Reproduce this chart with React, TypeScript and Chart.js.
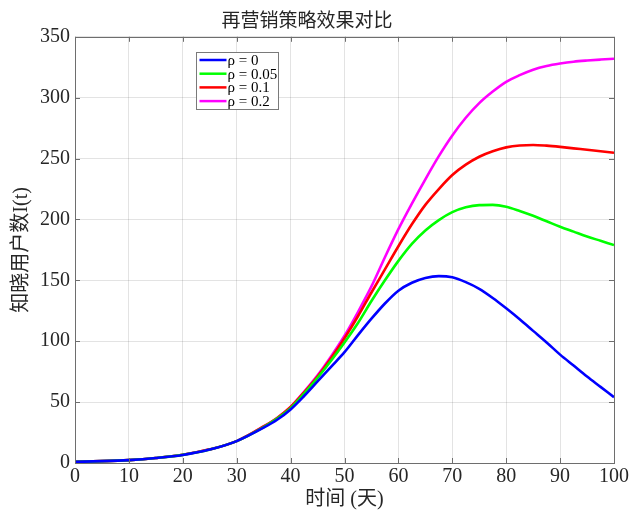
import React, { useEffect, useRef } from 'react';
import { Chart, registerables } from 'chart.js';

Chart.register(...registerables);

// ---- data ----
const days = [0, 5, 10, 15, 20, 25, 30, 35, 37.5, 40, 42.5, 45, 47.5, 50, 52.5, 55, 57.5, 60, 62.5, 65, 67.5, 70, 72.5, 75, 77.5, 80, 82.5, 85, 87.5, 90, 92.5, 95, 97.5, 100];
const rho0 = [1, 1.5, 2.4, 4.1, 6.6, 11, 18, 29, 35.5, 44, 55, 67, 79, 91, 105, 118.5, 131, 141.5, 148, 152, 153.5, 152.5, 148.5, 143, 135.5, 127, 118, 108.5, 99, 89, 80, 71, 62.5, 54];
const rho005 = [1, 1.5, 2.4, 4.1, 6.7, 11.1, 18, 29.5, 36.5, 45, 57, 70, 84, 99, 115, 133, 150, 166, 180, 191, 199.5, 206, 210, 211.8, 212, 210.5, 207, 203, 198.5, 194, 190, 186, 182.5, 179];
const rho01 = [1, 1.5, 2.4, 4.1, 6.7, 11.2, 18, 30, 37, 46, 58, 71, 86, 102.5, 120.5, 140, 159, 178, 196, 212, 225, 236.5, 245, 251.5, 256, 259.2, 260.8, 261.2, 260.6, 259.6, 258.4, 257.2, 256, 254.8];
const rho02 = [1, 1.5, 2.4, 4.1, 6.7, 11.2, 18, 30, 37, 46, 58.5, 72, 87.5, 104.5, 124, 145, 169, 192, 213, 233, 252, 269, 283.5, 295.5, 305, 313, 318.5, 323, 326, 328, 329.5, 330.5, 331.3, 332];
const seriesValues = [rho0, rho005, rho01, rho02];
const seriesLabels = ['ρ = 0', 'ρ = 0.05', 'ρ = 0.1', 'ρ = 0.2'];
const seriesColors = ['#0000ff', '#00ff00', '#ff0000', '#ff00ff'];

const chartTitle = '再营销策略效果对比';
const xTitle = '时间 (天)';
const yTitle = '知晓用户数I(t)';

const FONT = "'Liberation Serif', 'Times New Roman', 'Noto Sans CJK SC', serif";
const AXIS_GRAY = '#6e6e6e';

const framePlugin = {
  id: 'frame',
  afterDatasetsDraw(chart: any) {
    const { ctx, chartArea: ca, scales } = chart;
    ctx.save();
    // inner ticks
    ctx.strokeStyle = AXIS_GRAY;
    ctx.lineWidth = 1;
    const tl = 5;
    ctx.beginPath();
    scales.x.ticks.forEach((t: any) => {
      const px = Math.round(scales.x.getPixelForValue(t.value)) + 0.5;
      ctx.moveTo(px, ca.bottom);
      ctx.lineTo(px, ca.bottom - tl);
      ctx.moveTo(px, ca.top);
      ctx.lineTo(px, ca.top + tl);
    });
    scales.y.ticks.forEach((t: any) => {
      const py = Math.round(scales.y.getPixelForValue(t.value)) + 0.5;
      ctx.moveTo(ca.left, py);
      ctx.lineTo(ca.left + tl, py);
      ctx.moveTo(ca.right, py);
      ctx.lineTo(ca.right - tl, py);
    });
    ctx.stroke();
    // box
    ctx.strokeRect(Math.round(ca.left) + 0.5, Math.round(ca.top) + 0.5, Math.round(ca.right - ca.left), Math.round(ca.bottom - ca.top));

    // legend
    const bx = Math.round(ca.left + 121) + 0.5;
    const by = Math.round(ca.top + 15) + 0.5;
    const bw = 82;
    const bh = 57;
    ctx.fillStyle = '#ffffff';
    ctx.fillRect(bx, by, bw, bh);
    ctx.strokeStyle = '#7a7a7a';
    ctx.lineWidth = 1;
    ctx.strokeRect(bx, by, bw, bh);
    ctx.font = `15px ${FONT}`;
    ctx.textBaseline = 'middle';
    ctx.textAlign = 'left';
    seriesLabels.forEach((lab, i) => {
      const ry = by + 7.5 + i * 13.7;
      ctx.strokeStyle = seriesColors[i];
      ctx.lineWidth = 2.5;
      ctx.beginPath();
      ctx.moveTo(bx + 3, ry);
      ctx.lineTo(bx + 30, ry);
      ctx.stroke();
      ctx.fillStyle = '#000000';
      ctx.fillText(lab, bx + 31, ry + 1);
    });
    ctx.restore();
  },
};

export default function App() {
  const canvasRef = useRef<HTMLCanvasElement | null>(null);

  useEffect(() => {
    const canvas = canvasRef.current;
    if (!canvas) return;
    const datasets = seriesValues.map((vals, i) => ({
      label: seriesLabels[i],
      data: days.map((d, j) => ({ x: d, y: vals[j] })),
      borderColor: seriesColors[i],
      backgroundColor: seriesColors[i],
      borderWidth: 2.6,
      pointRadius: 0,
      cubicInterpolationMode: 'monotone',
      fill: false,
    }));
    const chart = new Chart(canvas, {
      type: 'line',
      data: { datasets },
      plugins: [framePlugin],
      options: {
        animation: false,
        responsive: false,
        devicePixelRatio: 1,
        layout: { padding: { left: 0, right: 18, top: 0, bottom: 0 } },
        plugins: {
          legend: { display: false },
          tooltip: { enabled: false },
          title: {
            display: true,
            text: chartTitle,
            color: '#262626',
            font: { family: "'Noto Sans CJK SC', sans-serif", size: 19, weight: 'normal' },
            padding: { top: 8, bottom: 6 },
          },
        },
        scales: {
          x: {
            type: 'linear',
            min: 0,
            max: 100,
            ticks: {
              stepSize: 10,
              color: '#262626',
              font: { family: FONT, size: 20 },
              padding: 2,
              maxRotation: 0,
            },
            grid: { color: 'rgba(0,0,0,0.11)', drawTicks: false },
            border: { display: false },
            title: {
              display: true,
              text: xTitle,
              color: '#262626',
              font: { family: FONT, size: 20 },
              padding: { top: 0, bottom: 4 },
            },
            afterFit: (s: any) => {
              s.height = 53;
            },
          },
          y: {
            type: 'linear',
            min: 0,
            max: 350,
            ticks: {
              stepSize: 50,
              color: '#262626',
              font: { family: FONT, size: 20 },
              padding: 5,
            },
            grid: { color: 'rgba(0,0,0,0.11)', drawTicks: false },
            border: { display: false },
            title: {
              display: true,
              text: yTitle,
              color: '#262626',
              font: { family: FONT, size: 20 },
              padding: { top: 10, bottom: 0 },
            },
            afterFit: (s: any) => {
              s.width = 75;
            },
          },
        },
      },
    } as any);
    return () => chart.destroy();
  }, []);

  return (
    <div style={{ position: 'fixed', left: 0, top: 0, width: 632, height: 516, background: '#fff' }}>
      <canvas ref={canvasRef} width={632} height={516} />
    </div>
  );
}
